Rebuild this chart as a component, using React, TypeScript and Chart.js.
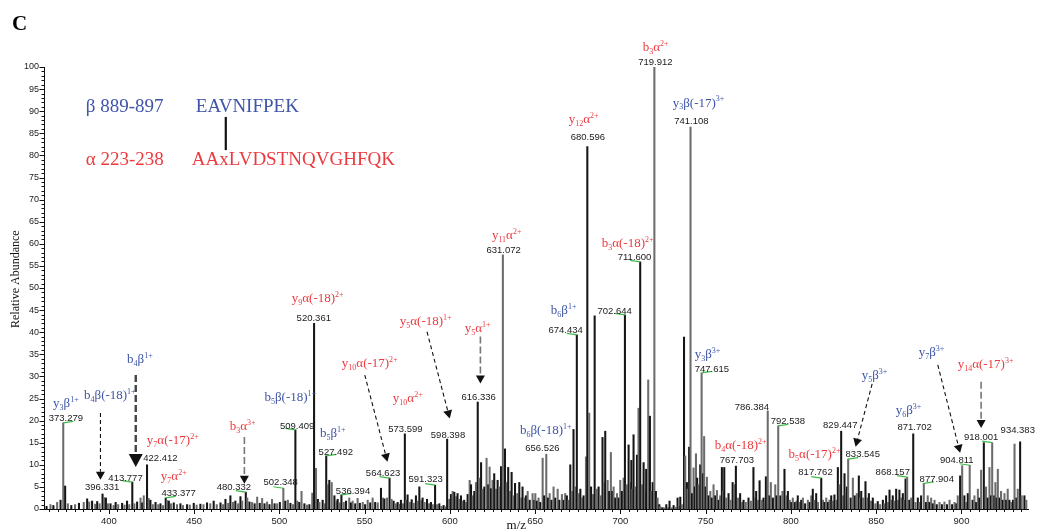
import React, { useEffect, useRef } from 'react';
import { Chart, registerables } from 'chart.js';

Chart.register(...registerables);

// ---------------- DATA ----------------
const MZ_MIN = 362;
const MZ_MAX = 939;
const Y_MAX = 100;

// spectrum: [m/z, relative abundance]
const spectrum360to500: Array<[number, number]> = [
  [363.5, 0.6], [365.8, 1.0], [367.5, 0.8], [369.7, 1.5], [371.7, 2.0], [373.279, 19.5], [374.4, 5.2], [376.0, 1.2],
  [378.0, 0.8], [380.2, 1.0], [382.5, 1.3], [385.3, 1.5], [387.3, 2.3], [388.5, 1.6], [390.2, 1.8], [392.0, 1.1],
  [393.2, 1.7], [394.6, 1.2], [396.331, 3.4], [397.2, 2.6], [398.3, 2.5], [399.5, 1.2], [401.0, 1.2], [402.8, 0.8],
  [404.0, 1.5], [405.5, 1.0], [407.8, 1.3], [409.2, 0.9], [410.7, 1.8], [412.0, 1.0], [413.777, 6.1], [415.0, 1.2],
  [416.6, 1.6], [418.6, 2.5], [419.6, 1.4], [420.5, 3.0], [422.412, 10.0], [423.4, 2.4], [424.4, 2.0], [425.8, 1.0],
  [427.4, 1.5], [429.0, 1.0], [430.3, 1.2], [431.8, 0.8], [433.377, 2.5], [434.2, 1.9], [435.2, 1.8], [436.5, 1.2],
  [438.1, 1.4], [440.0, 1.0], [442.0, 1.2], [443.5, 0.8], [445.9, 1.0], [447.5, 0.9], [449.8, 1.3], [451.5, 0.9],
  [453.7, 1.1], [455.5, 1.0], [457.6, 1.4], [459.5, 1.2], [461.5, 1.8], [463.3, 1.0], [465.5, 1.4], [467.0, 1.0],
  [468.4, 2.2], [470.0, 1.3], [471.3, 3.0], [472.8, 1.5], [474.2, 1.8], [475.8, 1.2], [477.2, 2.8], [478.2, 1.8],
  [480.332, 3.8], [481.2, 2.5], [482.5, 1.6], [484.0, 1.5], [485.5, 1.2], [487.0, 2.7], [488.5, 1.3], [489.9, 2.4],
  [491.3, 1.2], [492.8, 1.6], [494.2, 1.0], [495.7, 2.2], [497.2, 1.2], [498.7, 1.2],
];

const spectrum500to600: Array<[number, number]> = [
  [500.3, 1.5], [502.348, 4.7], [503.5, 1.8], [505.0, 2.0], [506.5, 1.3], [508.0, 1.0], [509.409, 17.9], [510.5, 1.8],
  [511.7, 1.5], [513.0, 4.0], [514.7, 1.2], [516.2, 0.9], [517.6, 1.0], [519.3, 3.6], [520.361, 42.0], [521.5, 9.2],
  [522.6, 2.2], [523.5, 1.5], [525.4, 2.0], [526.5, 1.2], [527.492, 12.0], [528.4, 5.5], [529.3, 6.5], [530.7, 6.0],
  [532.3, 3.0], [533.5, 1.8], [534.2, 2.2], [535.3, 1.4], [536.394, 3.2], [537.8, 1.5], [539.1, 1.8], [541.0, 2.5],
  [542.0, 1.4], [543.0, 1.8], [544.5, 1.2], [545.9, 2.4], [547.2, 1.3], [548.9, 1.5], [550.3, 1.0], [551.8, 2.0],
  [553.3, 1.4], [554.7, 2.5], [556.2, 1.5], [557.7, 1.4], [559.6, 4.7], [560.7, 2.5], [561.6, 2.3], [563.1, 2.5],
  [564.623, 7.0], [565.8, 2.2], [567.0, 1.8], [568.3, 1.2], [569.4, 1.5], [570.3, 1.1], [571.3, 2.0], [572.5, 1.2],
  [573.599, 17.0], [574.4, 2.0], [575.2, 3.2], [576.5, 1.5], [577.6, 2.1], [578.8, 1.3], [580.1, 3.0], [581.0, 1.8],
  [582.1, 5.0], [583.0, 2.0], [584.0, 2.5], [585.2, 1.5], [586.6, 2.2], [587.8, 1.2], [588.9, 1.5], [590.0, 1.0],
  [591.323, 5.4], [592.5, 1.0], [593.8, 1.2], [595.0, 0.6], [596.3, 0.8], [597.3, 0.5], [598.398, 15.8], [599.6, 2.2],
];

const spectrum600to700: Array<[number, number]> = [
  [600.6, 3.3], [601.6, 4.0], [602.6, 3.8], [603.6, 2.8], [604.5, 3.5], [605.5, 2.2], [606.5, 3.0], [607.5, 1.8],
  [608.4, 2.0], [609.4, 1.5], [610.4, 3.3], [611.6, 6.5], [612.4, 5.5], [613.4, 3.0], [614.3, 4.0], [615.3, 6.0],
  [616.336, 24.2], [617.2, 7.0], [618.3, 10.5], [619.2, 4.5], [620.2, 5.0], [621.5, 11.5], [622.5, 5.5], [623.3, 9.5],
  [624.1, 4.6], [625.0, 6.5], [626.0, 8.0], [627.0, 4.5], [628.0, 6.5], [629.0, 5.0], [630.0, 9.6], [631.072, 57.5],
  [632.3, 13.6], [633.3, 6.0], [634.2, 9.4], [635.2, 4.0], [636.2, 8.3], [637.2, 3.0], [638.2, 5.8], [639.5, 3.5],
  [640.7, 6.0], [641.8, 2.5], [642.6, 5.0], [643.7, 2.5], [644.6, 3.0], [645.6, 4.0], [646.8, 2.0], [648.5, 3.5],
  [649.5, 2.0], [650.1, 3.5], [651.0, 1.8], [652.0, 2.5], [653.0, 1.5], [654.4, 11.5], [655.3, 3.0], [656.526, 12.4],
  [657.5, 2.5], [658.5, 3.5], [659.6, 2.0], [660.8, 5.0], [661.8, 2.5], [663.2, 4.5], [664.2, 2.0], [665.7, 3.3],
  [666.7, 2.0], [667.6, 3.5], [668.6, 3.0], [669.6, 2.0], [670.6, 10.0], [671.5, 4.0], [672.5, 18.0], [673.5, 5.0],
  [674.434, 39.4], [675.5, 3.5], [676.5, 4.5], [677.4, 2.5], [678.4, 3.0], [679.8, 11.8], [680.596, 82.0], [681.7, 21.7],
  [682.8, 5.0], [683.9, 3.3], [684.9, 43.7], [686.0, 4.5], [687.2, 5.0], [688.3, 3.0], [689.5, 16.2], [690.3, 6.0],
  [691.1, 17.6], [692.5, 6.5], [693.4, 4.0], [694.4, 12.8], [695.2, 4.0], [696.0, 5.0], [697.0, 2.5], [698.0, 3.5],
  [699.0, 2.5], [699.9, 6.5],
];

const spectrum700to800: Array<[number, number]> = [
  [700.9, 4.0], [701.9, 7.0], [702.644, 43.9], [703.7, 5.5], [704.8, 14.5], [705.6, 6.0], [706.4, 11.0], [707.0, 4.5],
  [707.7, 16.8], [708.7, 5.0], [709.7, 12.2], [710.6, 22.8], [711.6, 55.9], [712.6, 5.5], [713.6, 10.5], [714.4, 4.0],
  [715.1, 9.0], [716.3, 29.2], [717.3, 21.0], [718.2, 4.0], [718.9, 6.0], [719.912, 100], [720.8, 4.0], [721.8, 2.5],
  [722.8, 1.0], [723.3, 0.5], [724.5, 0.3], [725.5, 0.3], [726.9, 1.0], [728.0, 0.3], [728.8, 1.8], [730.0, 0.3],
  [731.2, 0.8], [732.3, 0.4], [733.5, 2.5], [734.3, 0.6], [735.1, 2.7], [736.0, 1.0], [737.3, 38.9], [738.0, 12.0],
  [739.0, 6.0], [739.4, 4.5], [740.3, 14.0], [741.108, 86.4], [742.0, 3.5], [742.9, 9.3], [743.6, 5.0], [744.3, 12.5],
  [745.0, 7.0], [745.8, 5.5], [746.8, 10.0], [747.615, 30.8], [748.5, 8.0], [749.1, 16.4], [750.0, 5.0], [750.7, 7.2],
  [751.7, 3.0], [752.7, 4.0], [753.6, 2.5], [754.6, 5.5], [755.6, 3.0], [756.6, 4.2], [757.6, 2.0], [758.5, 3.0],
  [759.5, 9.4], [760.2, 4.0], [760.9, 9.4], [762.0, 2.5], [763.4, 3.5], [764.5, 2.0], [765.8, 6.0], [766.9, 5.5],
  [767.703, 9.7], [769.0, 2.5], [770.2, 3.5], [771.2, 1.5], [772.2, 2.0], [773.5, 1.5], [775.1, 2.5], [776.5, 1.8],
  [778.0, 9.4], [779.0, 2.5], [779.6, 4.0], [780.6, 2.0], [781.6, 6.4], [782.8, 2.0], [783.9, 2.5], [784.6, 1.5],
  [785.3, 7.3], [786.384, 22.2], [787.4, 3.0], [788.2, 6.0], [789.4, 2.5], [790.8, 5.5], [791.6, 3.0], [792.538, 18.8],
  [793.8, 3.0], [795.0, 4.0], [796.2, 9.0], [797.2, 3.0], [798.2, 4.0], [799.3, 2.0],
];

const spectrum800to940: Array<[number, number]> = [
  [800.2, 1.5], [801.1, 2.5], [802.3, 1.5], [803.3, 1.8], [804.0, 3.0], [805.2, 1.5], [806.0, 2.0], [807.0, 2.5],
  [808.3, 1.2], [809.9, 2.0], [811.0, 1.5], [811.9, 3.0], [812.8, 4.5], [813.8, 2.0], [814.8, 3.5], [815.8, 1.5],
  [817.762, 7.0], [818.8, 2.0], [819.7, 1.5], [820.7, 2.5], [821.7, 1.5], [822.6, 2.0], [823.6, 3.0], [824.5, 1.8],
  [825.5, 3.2], [826.5, 2.0], [827.5, 9.4], [828.5, 5.5], [829.447, 17.6], [830.5, 3.0], [831.4, 8.0], [832.2, 3.5],
  [832.8, 5.0], [833.545, 11.3], [835.0, 2.5], [836.3, 7.0], [837.4, 3.0], [838.6, 3.5], [839.8, 7.5], [840.5, 2.5],
  [841.2, 4.0], [842.3, 2.5], [843.7, 6.2], [844.6, 2.5], [845.7, 3.5], [847.0, 1.8], [848.0, 2.5], [849.5, 1.2],
  [850.9, 1.7], [852.3, 1.0], [853.9, 2.0], [854.8, 1.2], [855.8, 3.0], [856.8, 1.5], [857.8, 4.3], [858.8, 2.0],
  [859.7, 3.0], [860.7, 1.8], [861.7, 4.5], [862.7, 2.0], [863.6, 4.3], [864.6, 2.5], [865.6, 3.5], [866.4, 2.0],
  [867.2, 6.8], [868.157, 7.2], [869.4, 2.0], [870.5, 2.5], [871.702, 17.0], [873.0, 1.5], [874.4, 2.5], [875.3, 1.5],
  [876.3, 3.0], [877.904, 5.8], [879.2, 1.5], [880.2, 3.0], [881.2, 1.5], [882.2, 2.5], [883.2, 1.2], [884.2, 2.0],
  [885.5, 1.0], [887.1, 1.5], [888.5, 1.0], [890.0, 1.6], [891.5, 1.0], [893.0, 2.0], [894.5, 1.0], [895.9, 1.5],
  [897.0, 1.2], [897.8, 3.0], [899.2, 7.5], [900.4, 9.8], [901.7, 3.0], [902.7, 1.5], [903.7, 3.5], [904.811, 9.9],
  [906.5, 2.0], [907.6, 3.0], [908.6, 1.5], [909.6, 4.5], [910.5, 2.5], [911.5, 8.8], [913.1, 15.0], [914.4, 5.0],
  [915.4, 2.5], [916.4, 9.4], [917.3, 3.0], [918.001, 15.0], [919.2, 3.0], [919.9, 6.0], [920.6, 2.5], [921.3, 9.0],
  [922.3, 2.5], [923.2, 4.0], [924.2, 2.0], [925.2, 3.5], [926.2, 2.0], [927.1, 4.5], [928.1, 2.0], [929.2, 1.5],
  [930.2, 2.0], [931.1, 14.7], [932.2, 2.5], [933.0, 4.5], [934.383, 15.2], [935.3, 3.0], [936.9, 3.0], [938.0, 2.0],
];

// labelled peaks (m/z values printed above the peaks)
const labelledPeaks: number[] = [
  373.279, 396.331, 413.777, 422.412, 433.377, 480.332, 502.348, 509.409, 520.361, 527.492, 536.394, 564.623,
  573.599, 591.323, 598.398, 616.336, 631.072, 656.526, 674.434, 680.596, 702.644, 711.6, 719.912, 741.108,
  747.615, 767.703, 786.384, 792.538, 817.762, 829.447, 833.545, 868.157, 871.702, 877.904, 904.811, 918.001, 934.383,
];
// label anchor (m/z, abundance) for each labelled peak
const labelAnchors: Array<[number, number]> = [
  [374.8, 20.4], [396.1, 4.8], [409.8, 7.0], [430.3, 11.5], [441.0, 3.6], [473.3, 5.0], [500.8, 6.0], [510.4, 18.8],
  [520.2, 43.2], [533.1, 12.9], [543.2, 4.1], [560.8, 8.1], [573.9, 18.1], [585.8, 6.6], [598.9, 16.7], [616.9, 25.3],
  [631.5, 58.6], [654.2, 13.8], [667.9, 40.3], [680.9, 84.0], [696.6, 44.8], [708.3, 56.9], [720.5, 101.1], [741.6, 87.6],
  [753.6, 31.6], [768.3, 10.9], [777.1, 22.9], [798.2, 19.8], [814.4, 8.2], [828.9, 19.0], [842.1, 12.4], [859.7, 8.2],
  [872.5, 18.5], [885.5, 6.7], [897.2, 10.9], [911.5, 16.1], [933.0, 17.7],
];
// matched peaks with small green marker (+1 to the right, -1 to the left)
const matchedPeaks: number[] = [
  373.279, 413.777, 433.377, 480.332, 502.348, 509.409, 527.492, 536.394, 564.623, 591.323, 674.434,
  702.644, 711.6, 747.615, 792.538, 817.762, 833.545, 868.157, 877.904, 904.811, 918.001,
];
const matchedSide: number[] = [1, -1, 1, -1, -1, -1, 1, 1, -1, -1, -1, -1, -1, 1, 1, -1, 1, -1, 1, -1, -1];

// ion annotations (text, series: 'a' alpha red, 'b' beta blue)
const ionTexts: string[] = [
  'y_3β^1+', 'b_4β(-18)^1+', 'b_4β^1+', 'y_7α(-17)^2+', 'y_7α^2+', 'b_3α^3+', 'b_5β(-18)^1+', 'y_9α(-18)^2+',
  'b_5β^1+', 'y_10α(-17)^2+', 'y_5α(-18)^1+', 'y_5α^1+', 'y_10α^2+', 'y_11α^2+', 'b_6β^1+', 'b_3α(-18)^2+',
  'b_6β(-18)^1+', 'y_3β^3+', 'b_3α^2+', 'y_3β(-17)^3+', 'y_12α^2+', 'b_4α(-18)^2+', 'b_5α(-17)^2+', 'y_5β^3+',
  'y_7β^3+', 'y_6β^3+', 'y_14α(-17)^3+',
];
const ionAnchors: Array<[number, number]> = [
  [374.8, 24.0], [400.6, 25.8], [418.2, 33.9], [437.5, 15.6], [438.1, 7.5], [478.5, 18.8], [506.4, 25.3], [522.5, 47.7],
  [531.3, 17.2], [553.0, 33.0], [585.8, 42.5], [616.3, 40.9], [575.3, 25.1], [633.3, 62.0], [666.7, 45.0], [704.2, 60.2],
  [656.2, 17.9], [751.1, 35.1], [720.6, 104.5], [745.8, 91.9], [678.4, 88.2], [770.5, 14.5], [813.8, 12.4], [849.0, 30.3],
  [882.4, 35.5], [868.9, 22.4], [914.1, 32.8],
];

// dashed arrows: [from m/z, from abundance, to m/z, to abundance]
const arrows: Array<[number, number, number, number]> = [
  [395.1, 21.7, 395.1, 6.6],
  [415.8, 30.3, 415.8, 9.5],
  [479.5, 16.3, 479.5, 5.7],
  [550.1, 30.3, 563.4, 10.7],
  [586.6, 40.1, 599.9, 20.5],
  [617.9, 39.0, 617.9, 28.4],
  [847.6, 28.3, 837.9, 14.1],
  [886.1, 32.6, 899.2, 12.7],
  [911.5, 28.8, 911.5, 18.3],
];
const arrowKinds: number[] = [0, 1, 2, 0, 0, 2, 0, 0, 2];

// peptide header
const betaRange = 'β 889-897';
const betaSeq = 'EAVNIFPEK';
const alphaRange = 'α 223-238';
const alphaSeq = 'AAxLVDSTNQVGHFQK';

// ---------------- STYLE ----------------
const SERIF = '"Liberation Serif", "Times New Roman", Times, serif';
const SANS = '"Liberation Sans", Arial, Helvetica, sans-serif';
const RED = '#ec3b40';
const BLUE = '#3e55a8';
const GREEN = '#3dbb4a';

type Seg = { t: string; k: 'n' | 'sub' | 'sup'; w?: number };

function parseIon(str: string): Seg[] {
  const out: Seg[] = [];
  let buf = '';
  let i = 0;
  while (i < str.length) {
    const c = str[i];
    if (c === '_') {
      if (buf) { out.push({ t: buf, k: 'n' }); buf = ''; }
      let j = i + 1;
      let d = '';
      while (j < str.length && /[0-9]/.test(str[j])) { d += str[j]; j++; }
      out.push({ t: d, k: 'sub' });
      i = j;
      continue;
    }
    if (c === '^') {
      if (buf) { out.push({ t: buf, k: 'n' }); buf = ''; }
      out.push({ t: str.slice(i + 1), k: 'sup' });
      i = str.length;
      break;
    }
    buf += c;
    i++;
  }
  if (buf) out.push({ t: buf, k: 'n' });
  return out;
}

function drawIon(ctx: CanvasRenderingContext2D, text: string, cx: number, cy: number, color: string) {
  const size = 13;
  const small = 8;
  const segs = parseIon(text);
  let total = 0;
  for (const s of segs) {
    ctx.font = `${s.k === 'n' ? size : small}px ${SERIF}`;
    s.w = ctx.measureText(s.t).width;
    total += s.w;
  }
  let x = cx - total / 2;
  const base = cy + size * 0.32;
  ctx.fillStyle = color;
  ctx.textAlign = 'left';
  ctx.textBaseline = 'alphabetic';
  for (const s of segs) {
    ctx.font = `${s.k === 'n' ? size : small}px ${SERIF}`;
    const dy = s.k === 'sub' ? 2.5 : s.k === 'sup' ? -5.5 : 0;
    ctx.fillText(s.t, x, base + dy);
    x += s.w || 0;
  }
}

const allSpectrum = [
  ...spectrum360to500, ...spectrum500to600, ...spectrum600to700, ...spectrum700to800, ...spectrum800to940,
];

function intensityAt(mz: number): number {
  let best = 0;
  let bd = Infinity;
  for (const [m, v] of allSpectrum) {
    const d = Math.abs(m - mz);
    if (d < bd) { bd = d; best = v; }
  }
  return best;
}

const annotationPlugin = {
  id: 'msAnnotations',
  afterDatasetsDraw(chart: any) {
    const { ctx, chartArea } = chart;
    const xs = chart.scales.x;
    const ys = chart.scales.y;
    const X = (v: number) => xs.getPixelForValue(v);
    const Y = (v: number) => ys.getPixelForValue(v);
    ctx.save();

    // axis tick marks
    ctx.strokeStyle = '#111';
    ctx.lineWidth = 1;
    ctx.beginPath();
    for (let v = 0; v <= Y_MAX; v++) {
      const py = Math.round(Y(v)) + 0.5;
      const len = v % 5 === 0 ? 4.5 : 2.5;
      ctx.moveTo(chartArea.left - len, py);
      ctx.lineTo(chartArea.left, py);
    }
    for (let v = Math.ceil(MZ_MIN / 5) * 5; v <= MZ_MAX; v += 5) {
      const px = Math.round(X(v)) + 0.5;
      const len = v % 50 === 0 ? 5 : 3;
      ctx.moveTo(px, chartArea.bottom);
      ctx.lineTo(px, chartArea.bottom + len);
    }
    ctx.stroke();

    // green matched markers
    ctx.strokeStyle = GREEN;
    ctx.lineWidth = 1.2;
    matchedPeaks.forEach((mz, i) => {
      const px = X(mz);
      const py = Y(intensityAt(mz));
      ctx.beginPath();
      ctx.moveTo(px, py);
      ctx.lineTo(px + matchedSide[i] * 10, py - 1.5);
      ctx.stroke();
    });

    // peak m/z labels
    ctx.fillStyle = '#1a1a1a';
    ctx.font = `9.5px ${SANS}`;
    ctx.textAlign = 'center';
    ctx.textBaseline = 'middle';
    labelledPeaks.forEach((mz, i) => {
      const [lx, ly] = labelAnchors[i];
      ctx.fillText(mz.toFixed(3), X(lx), Y(ly));
    });

    // ion labels
    ionTexts.forEach((t, i) => {
      const [ax, ay] = ionAnchors[i];
      drawIon(ctx, t, X(ax), Y(ay), t.includes('α') ? RED : BLUE);
    });

    // arrows
    arrows.forEach(([x1, y1, x2, y2], i) => {
      const kind = arrowKinds[i];
      const sx = X(x1), sy = Y(y1), tx = X(x2), ty = Y(y2);
      const head = kind === 1 ? 13 : 8;
      const half = kind === 1 ? 7 : 4.5;
      const ang = Math.atan2(ty - sy, tx - sx);
      const bx = tx - Math.cos(ang) * head;
      const by = ty - Math.sin(ang) * head;
      ctx.strokeStyle = kind === 0 ? '#111' : kind === 1 ? '#444' : '#777';
      ctx.lineWidth = kind === 1 ? 2.4 : kind === 2 ? 1.6 : 1.1;
      ctx.setLineDash(kind === 0 ? [4, 3] : [7, 3]);
      ctx.beginPath();
      ctx.moveTo(sx, sy);
      ctx.lineTo(bx, by);
      ctx.stroke();
      ctx.setLineDash([]);
      ctx.fillStyle = '#111';
      ctx.beginPath();
      ctx.moveTo(tx, ty);
      ctx.lineTo(bx + Math.cos(ang + Math.PI / 2) * half, by + Math.sin(ang + Math.PI / 2) * half);
      ctx.lineTo(bx - Math.cos(ang + Math.PI / 2) * half, by - Math.sin(ang + Math.PI / 2) * half);
      ctx.closePath();
      ctx.fill();
    });

    // peptide header
    ctx.textAlign = 'left';
    ctx.textBaseline = 'alphabetic';
    ctx.font = `19px ${SERIF}`;
    ctx.fillStyle = BLUE;
    ctx.fillText(betaRange, X(386.5), Y(91.2) + 6.5);
    ctx.fillText(betaSeq, X(451.0), Y(91.2) + 6.5);
    ctx.fillStyle = RED;
    ctx.fillText(alphaRange, X(386.5), Y(79.3) + 6.5);
    ctx.fillText(alphaSeq, X(448.7), Y(79.3) + 6.5);
    ctx.strokeStyle = '#111';
    ctx.lineWidth = 2.2;
    ctx.beginPath();
    ctx.moveTo(X(468.6), Y(88.7));
    ctx.lineTo(X(468.6), Y(81.2));
    ctx.stroke();

    // panel letter and axis titles
    ctx.fillStyle = '#000';
    ctx.font = `bold 21px ${SERIF}`;
    ctx.fillText('C', 12, 30);

    ctx.font = `13px ${SERIF}`;
    ctx.textAlign = 'center';
    ctx.textBaseline = 'middle';
    ctx.fillStyle = '#111';
    ctx.fillText('m/z', chartArea.left + (chartArea.right - chartArea.left) * 0.48, chartArea.bottom + 17);

    ctx.save();
    ctx.translate(16, chartArea.top + (chartArea.bottom - chartArea.top) * 0.48);
    ctx.rotate(-Math.PI / 2);
    ctx.font = `12px ${SERIF}`;
    ctx.fillText('Relative Abundance', 0, 0);
    ctx.restore();

    ctx.restore();
  },
};

export default function App() {
  const canvasRef = useRef<HTMLCanvasElement | null>(null);

  useEffect(() => {
    if (!canvasRef.current) return;
    const chart = new Chart(canvasRef.current, {
      type: 'bar',
      data: {
        datasets: [
          {
            data: allSpectrum.map(([x, y]) => ({ x, y })) as any,
            backgroundColor: allSpectrum.map((_, i) => (i % 2 === 0 ? '#151515' : '#6c6c6c')),
            borderWidth: 0,
            barThickness: 1.4,
          },
        ],
      },
      options: {
        responsive: false,
        animation: false,
        events: [],
        layout: { padding: { left: 0, right: 11, top: 67, bottom: 0 } },
        plugins: { legend: { display: false }, tooltip: { enabled: false }, title: { display: false } },
        scales: {
          x: {
            type: 'linear',
            min: MZ_MIN,
            max: MZ_MAX,
            offset: false,
            grid: { display: false, drawTicks: false, offset: false },
            border: { display: true, color: '#111', width: 1 },
            ticks: {
              stepSize: 50,
              includeBounds: false,
              autoSkip: false,
              maxRotation: 0,
              padding: 7,
              color: '#222',
              font: { family: SANS, size: 9.5 },
              callback: (v: any) => (Number(v) % 50 === 0 ? String(v) : ''),
            },
            afterFit: (scale: any) => { scale.height = 23; },
          } as any,
          y: {
            min: 0,
            max: Y_MAX,
            grid: { display: false, drawTicks: false },
            border: { display: true, color: '#111', width: 1 },
            ticks: {
              stepSize: 5,
              padding: 5,
              color: '#222',
              font: { family: SANS, size: 9 },
            },
            afterFit: (scale: any) => { scale.width = 44; },
          } as any,
        },
      },
      plugins: [annotationPlugin],
    });
    return () => chart.destroy();
  }, []);

  return (
    <div style={{ position: 'fixed', left: 0, top: 0, width: 1039, height: 532, background: '#fff' }}>
      <canvas ref={canvasRef} width={1039} height={532} style={{ display: 'block' }} />
    </div>
  );
}
